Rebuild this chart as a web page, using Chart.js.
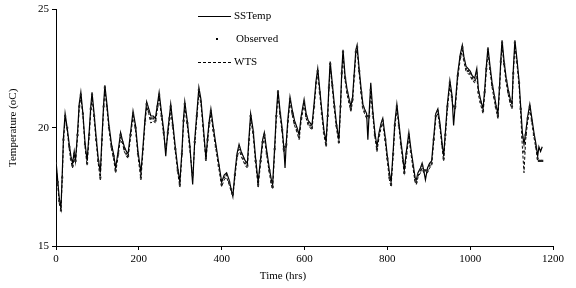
<!DOCTYPE html>
<html>
<head>
<meta charset="utf-8">
<script src="https://cdn.jsdelivr.net/npm/chart.js@4/dist/chart.umd.min.js"></script>
<style>
html,body{margin:0;padding:0;background:#fff;}
#c{display:block;}
</style>
</head>
<body>
<canvas id="c" width="576" height="288"></canvas>
<script>
const hours = [0,4,8,12,15,18,22,27,32,36,40,44,47,52,56,60,65,70,75,80,84,87,92,97,102,107,111,115,118,123,128,134,139,144,150,156,160,165,170,174,180,186,192,198,205,210,215,219,224,229,235,240,245,249,255,260,265,270,274,277,282,288,294,299,304,308,311,317,323,330,335,340,345,350,355,362,366,370,374,380,386,393,400,406,412,418,423,427,432,437,442,447,452,457,462,466,470,476,482,488,494,499,503,509,515,520,523,528,532,536,541,546,550,553,556,560,565,571,576,582,587,592,599,604,609,614,618,623,628,632,637,642,647,652,656,659,662,667,672,677,683,687,690,693,698,703,708,712,716,720,724,727,732,737,741,745,750,753,756,760,765,770,775,780,785,789,795,800,805,809,814,818,823,828,833,838,841,846,852,857,862,867,870,874,880,884,888,892,897,902,907,912,917,922,927,932,936,940,945,951,956,960,964,970,976,981,985,990,995,1000,1005,1011,1016,1020,1025,1031,1035,1039,1043,1048,1053,1058,1062,1067,1071,1074,1077,1082,1087,1092,1097,1101,1104,1108,1113,1118,1122,1126,1130,1134,1139,1144,1149,1154,1159,1163,1166,1170,1174];

const ssTemp = [18.6,17.8,17.0,16.6,18.0,19.6,20.6,20.0,19.3,18.8,
18.5,19.0,18.6,19.8,21.0,21.5,20.6,19.4,18.6,19.8,
20.9,21.5,20.6,19.6,18.7,18.1,19.6,21.0,21.8,21.0,
20.1,19.3,18.9,18.3,19.0,19.8,19.5,19.2,19.0,18.9,
19.8,20.7,20.1,19.0,18.1,19.2,20.4,21.1,20.8,20.5,
20.5,20.4,21.0,21.5,20.6,19.9,18.8,19.9,20.5,21.0,
20.2,19.2,18.3,17.7,19.0,20.4,21.1,20.3,19.3,17.6,
19.5,20.6,21.7,21.2,20.2,18.7,19.6,20.3,20.8,20.0,
19.3,18.5,17.7,18.0,18.1,17.8,17.4,17.1,18.1,18.9,
19.3,19.0,18.8,18.6,18.5,19.6,20.6,19.9,18.7,17.7,
18.7,19.5,19.8,19.0,18.3,17.8,17.6,19.2,20.6,21.6,
20.7,20.0,19.2,18.3,19.4,20.4,21.3,20.7,20.3,20.0,
19.7,20.5,21.2,20.6,20.3,20.2,20.1,21.0,22.0,22.5,
21.6,20.7,19.9,19.4,20.6,21.8,22.8,21.9,21.0,20.2,
19.5,21.0,22.4,23.3,22.2,21.6,21.2,20.9,21.3,22.3,
23.3,23.5,22.5,21.6,21.0,20.8,20.6,19.5,20.6,21.9,
20.7,19.8,19.2,19.8,20.2,20.4,19.6,18.8,18.1,17.7,
19.0,20.2,21.0,20.2,19.4,18.7,18.2,19.0,19.8,19.1,
18.5,17.9,17.8,18.1,18.3,18.5,18.2,17.8,18.3,18.5,
18.6,19.6,20.6,20.8,20.2,19.4,18.8,19.8,21.0,22.0,
21.4,20.1,21.0,22.3,23.1,23.5,23.0,22.6,22.5,22.4,
22.2,22.1,22.5,21.6,21.2,20.8,21.6,22.6,23.4,22.6,
21.9,21.4,21.0,20.6,21.8,22.9,23.7,22.8,22.1,21.6,
21.2,21.0,22.4,23.7,22.9,22.0,20.9,19.8,19.3,19.8,
20.5,21.0,20.4,19.8,19.3,18.8,19.2,19.0,19.2];

const observed = [18.5,17.7,16.9,16.5,17.9,19.5,20.5,20.0,19.2,18.7,
18.4,18.9,18.6,19.7,20.9,21.4,20.6,19.3,18.5,19.7,
20.8,21.4,20.5,19.5,18.6,17.9,19.5,20.9,21.7,20.9,
20.0,19.2,18.8,18.2,18.9,19.7,19.4,19.1,18.9,18.8,
19.7,20.6,20.0,18.9,17.9,19.1,20.3,21.0,20.7,20.4,
20.4,20.3,20.9,21.4,20.5,19.8,19.2,19.8,20.4,20.9,
20.1,19.1,18.2,17.6,18.9,20.3,21.0,20.2,19.2,18.0,
19.4,20.5,21.6,21.1,20.1,18.7,19.5,20.2,20.7,19.9,
19.2,18.4,17.6,17.9,18.0,17.7,17.4,17.2,18.0,18.8,
19.2,18.9,18.7,18.5,18.4,19.5,20.5,19.8,18.6,17.6,
18.6,19.4,19.7,18.9,18.2,17.7,17.5,19.1,20.5,21.5,
20.6,19.9,19.1,19.2,19.3,20.3,21.2,20.6,20.2,19.9,
19.6,20.4,21.1,20.5,20.2,20.1,20.0,20.9,21.9,22.4,
21.5,20.6,19.8,19.3,20.5,21.7,22.7,21.8,20.9,20.1,
19.4,20.9,22.3,23.2,22.1,21.5,21.1,20.8,21.2,22.2,
23.2,23.4,22.4,21.5,20.9,20.7,20.5,20.5,20.5,21.6,
20.6,19.7,19.1,19.7,20.1,20.3,19.5,18.7,17.9,17.6,
18.9,20.1,20.9,20.1,19.3,18.6,18.1,18.9,19.7,19.0,
18.4,17.8,17.7,18.0,18.2,18.4,18.2,18.2,18.2,18.4,
18.5,19.5,20.5,20.7,20.1,19.3,18.7,19.7,20.9,21.9,
21.3,20.9,20.9,22.2,23.0,23.4,22.9,22.5,22.4,22.3,
22.1,22.0,22.3,21.5,21.1,20.7,21.5,22.5,23.3,22.5,
21.8,21.3,20.9,20.5,21.7,22.8,23.6,22.7,22.0,21.5,
21.1,20.9,22.3,23.6,22.8,21.9,20.8,19.6,19.0,19.7,
20.4,20.9,20.3,19.7,19.2,18.7,18.6,18.6,18.6];

const wts = [18.5,17.6,16.8,16.5,17.8,19.4,20.4,19.9,19.1,18.6,
18.3,18.8,18.5,19.6,20.8,21.3,20.5,19.2,18.4,19.6,
20.7,21.3,20.4,19.4,18.5,17.8,19.4,20.8,21.6,20.8,
19.9,19.1,18.7,18.1,18.8,19.6,19.4,19.0,18.8,18.7,
19.6,20.5,19.9,18.8,17.8,19.0,20.2,20.9,20.6,20.2,
20.3,20.2,20.8,21.3,20.4,19.7,19.1,19.7,20.3,20.8,
20.0,19.0,18.1,17.5,18.8,20.2,20.9,20.1,19.1,17.9,
19.3,20.4,21.5,21.0,20.0,18.6,19.4,20.1,20.6,19.8,
19.1,18.3,17.5,17.8,17.9,17.6,17.3,17.1,17.9,18.7,
19.1,18.8,18.6,18.4,18.3,19.4,20.4,19.7,18.5,17.5,
18.5,19.3,19.6,18.8,18.1,17.6,17.4,19.0,20.4,21.4,
20.5,19.8,19.0,19.1,19.2,20.2,21.1,20.5,20.1,19.8,
19.5,20.3,21.0,20.4,20.1,20.0,19.9,20.8,21.8,22.3,
21.4,20.5,19.7,19.2,20.4,21.6,22.6,21.7,20.8,20.0,
19.3,20.8,22.2,23.1,22.0,21.4,21.0,20.7,21.1,22.1,
23.1,23.3,22.3,21.4,20.8,20.6,20.4,20.4,20.4,21.5,
20.5,19.6,19.0,19.6,20.0,20.2,19.4,18.6,17.8,17.5,
18.8,20.0,20.8,20.0,19.2,18.5,18.0,18.8,19.6,18.9,
18.3,17.7,17.6,17.9,18.1,18.3,18.1,18.1,18.1,18.3,
18.4,19.4,20.4,20.6,20.0,19.2,18.6,19.6,20.8,21.8,
21.2,20.8,20.8,22.1,22.9,23.3,22.8,22.4,22.3,22.2,
22.0,21.9,22.2,21.4,21.0,20.6,21.4,22.4,23.2,22.4,
21.7,21.2,20.8,20.4,21.6,22.7,23.5,22.6,21.9,21.4,
21.0,20.8,22.2,23.5,22.7,21.8,20.6,19.2,18.1,19.5,
20.3,20.8,20.2,19.6,19.1,18.6,18.6,18.6,18.6];

const xTicks = [0,200,400,600,800,1000,1200];
const yTicks = [15,20,25];
const seriesNames = ['SSTemp','Observed','WTS'];
const xTitle = 'Time (hrs)';
const yTitle = 'Temperature (oC)';

const FONT = '"Liberation Serif", "Times New Roman", serif';

function pts(vals){ return hours.map((h,i)=>({x:h,y:vals[i]})); }

const legendPlugin = {
  id:'customLegend',
  afterDraw(chart){
    const ctx = chart.ctx;
    ctx.save();
    ctx.font = '11px ' + FONT;
    ctx.fillStyle = '#000';
    ctx.textBaseline = 'middle';
    ctx.strokeStyle = '#000';
    ctx.lineWidth = 1;
    ctx.beginPath(); ctx.moveTo(198,16.5); ctx.lineTo(231,16.5); ctx.stroke();
    ctx.fillText(seriesNames[0], 234, 16);
    ctx.fillRect(216,38,2,2);
    ctx.fillText(seriesNames[1], 236, 39);
    ctx.setLineDash([3,2]);
    ctx.beginPath(); ctx.moveTo(198,62.5); ctx.lineTo(231,62.5); ctx.stroke();
    ctx.setLineDash([]);
    ctx.fillText(seriesNames[2], 234, 62);
    ctx.textAlign = 'center';
    ctx.fillText(xTitle, 283, 276);
    ctx.restore();
  }
};

new Chart(document.getElementById('c'), {
  type:'scatter',
  data:{
    datasets:[
      {label:seriesNames[0], data:pts(ssTemp), showLine:true, borderColor:'#000', borderWidth:1.2, pointRadius:0, tension:0, order:2},
      {label:seriesNames[1], data:pts(observed), showLine:false, pointStyle:'rect', pointRadius:1.5, backgroundColor:'#222', borderColor:'#222', borderWidth:0, order:1},
      {label:seriesNames[2], data:pts(wts), showLine:true, borderColor:'#000', borderWidth:1, borderDash:[3,2], pointRadius:0, tension:0, order:3}
    ]
  },
  options:{
    responsive:false,
    animation:false,
    devicePixelRatio:1,
    layout:{padding:{top:7,right:23,left:0,bottom:0}},
    plugins:{legend:{display:false}, tooltip:{enabled:false}},
    scales:{
      x:{
        type:'linear', min:0, max:1200,
        afterBuildTicks(s){ s.ticks = xTicks.map(v=>({value:v})); },
        afterFit(s){ s.height = 42; },
        ticks:{color:'#000', font:{family:FONT, size:11}, padding:3, maxRotation:0, callback:(v)=>String(v)},
        grid:{display:true, drawOnChartArea:false, drawTicks:true, tickLength:4, color:'#000'},
        border:{display:true, color:'#000', width:1},
        title:{display:false}
      },
      y:{
        min:15, max:25,
        afterBuildTicks(s){ s.ticks = yTicks.map(v=>({value:v})); },
        afterFit(s){ s.width = 56; },
        ticks:{color:'#000', font:{family:FONT, size:11}, padding:3, callback:(v)=>String(v)},
        grid:{display:true, drawOnChartArea:false, drawTicks:true, tickLength:4, color:'#000'},
        border:{display:true, color:'#000', width:1},
        title:{display:true, text:yTitle, color:'#000', font:{family:FONT, size:11}, padding:{top:7,bottom:0}}
      }
    }
  },
  plugins:[legendPlugin]
});
</script>
</body>
</html>
